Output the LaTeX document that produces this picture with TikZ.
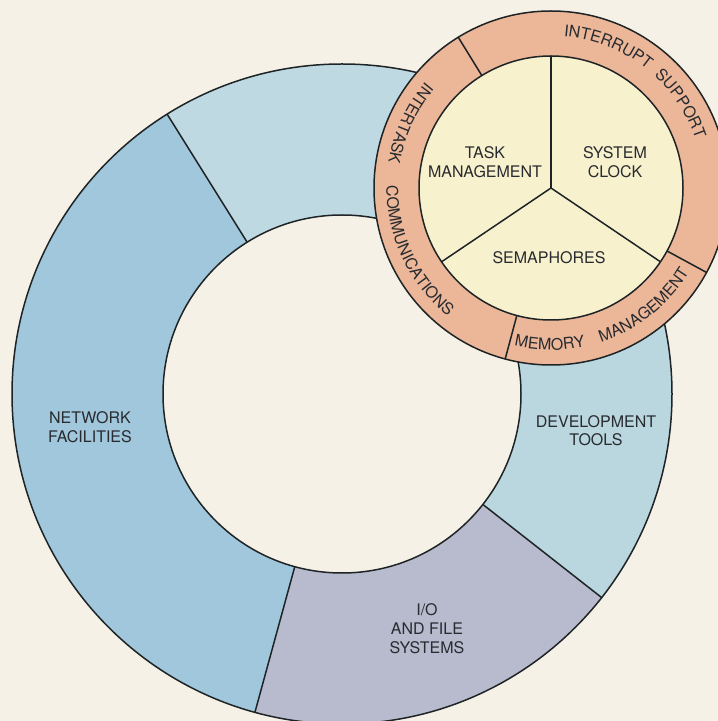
\documentclass[tikz,border=0pt]{standalone}
\usepackage{fontspec}
\setmainfont{TeX Gyre Heros}
\usetikzlibrary{decorations.text}
\definecolor{bg}{RGB}{245,241,231}
\definecolor{netblue}{RGB}{160,199,219}
\definecolor{topblue}{RGB}{191,217,227}
\definecolor{devblue}{RGB}{186,214,222}
\definecolor{iogray}{RGB}{184,186,206}
\definecolor{salmon}{RGB}{236,182,152}
\definecolor{cream}{RGB}{248,241,206}
\definecolor{ink}{RGB}{30,36,38}
\definecolor{txt}{RGB}{40,43,47}
\newcommand\ringfont{\fontsize{16}{18}\selectfont}
\tikzset{
  lbl/.style={font=\fontsize{16}{19}\selectfont, align=center, text=txt, inner sep=0pt},
  edge/.style={draw=ink, line width=1.5pt},
  ringtext/.style={decorate, decoration={text along path, text align=center, text={|\color{txt}\ringfont|#1}}}
}
\begin{document}
\begin{tikzpicture}[x=1pt,y=1pt]
\useasboundingbox (0,0) rectangle (718,721);
\clip (0,0) rectangle (718,721);
\fill[bg] (0,0) rectangle (718,721);
\coordinate (B) at (342,327);
\coordinate (S) at (551,533);
% big ring
\begin{scope}[shift={(B)}]
  \fill[netblue] (122:330) arc[start angle=122,end angle=254.7,radius=330] -- (254.7:179) arc[start angle=254.7,end angle=122,radius=179] -- cycle;
  \fill[iogray] (254.7:330) arc[start angle=254.7,end angle=321.9,radius=330] -- (321.9:179) arc[start angle=321.9,end angle=254.7,radius=179] -- cycle;
  \fill[devblue] (-38.1:330) arc[start angle=-38.1,end angle=45,radius=330] -- (45:179) arc[start angle=45,end angle=-38.1,radius=179] -- cycle;
  \fill[topblue] (45:330) arc[start angle=45,end angle=122,radius=330] -- (122:179) arc[start angle=122,end angle=45,radius=179] -- cycle;
  \draw[edge] (0,0) circle[radius=330];
  \draw[edge] (0,0) circle[radius=179];
  \draw[edge] (122:179) -- (122:330);
  \draw[edge] (254.7:179) -- (254.7:330);
  \draw[edge] (321.9:179) -- (321.9:330);
\end{scope}
\node[lbl] (net) at (90,293.5) {NETWORK\\FACILITIES};
\node[lbl, font=\fontsize{16}{18}\selectfont] (dev) at (596,290) {DEVELOPMENT\\TOOLS};
\node[lbl] (io) at (427,92) {I/O\\AND FILE\\SYSTEMS};
% small circle
\begin{scope}[shift={(S)}]
  \fill[salmon] (0,0) circle[radius=177];
  \fill[cream] (0,0) circle[radius=132];
  \draw[edge] (0,0) circle[radius=177];
  \draw[edge] (0,0) circle[radius=132];
  \draw[edge] (121.6:132) -- (121.6:177);
  \draw[edge] (-28.5:132) -- (-28.5:177);
  \draw[edge] (255:132) -- (255:177);
  \draw[edge] (0,0) -- (90:132);
  \draw[edge] (0,0) -- (214:132);
  \draw[edge] (0,0) -- (326:132);
  \path[ringtext={INTERRUPT}] (98:152.5) arc[start angle=98,end angle=38,radius=152.5];
  \path[ringtext={SUPPORT}] (63:152.5) arc[start angle=63,end angle=3,radius=152.5];
  \path[ringtext={INTERTASK}] (125.4:164.5) arc[start angle=125.4,end angle=185.4,radius=164.5];
  \path[ringtext={COMMUNICATIONS}] (165.2:164.5) arc[start angle=165.2,end angle=245.2,radius=164.5];
  \path[ringtext={MEMORY}] (239.6:162) arc[start angle=239.6,end angle=299.6,radius=162];
  \path[ringtext={MANAGEMENT}] (268.3:162) arc[start angle=268.3,end angle=348.3,radius=162];
\end{scope}
\node[lbl] (task) at (485,558.5) {TASK\\MANAGEMENT};
\node[lbl] (clock) at (615,558.5) {SYSTEM\\CLOCK};
\node[lbl] (sem) at (549,463) {SEMAPHORES};
\end{tikzpicture}
\end{document}
